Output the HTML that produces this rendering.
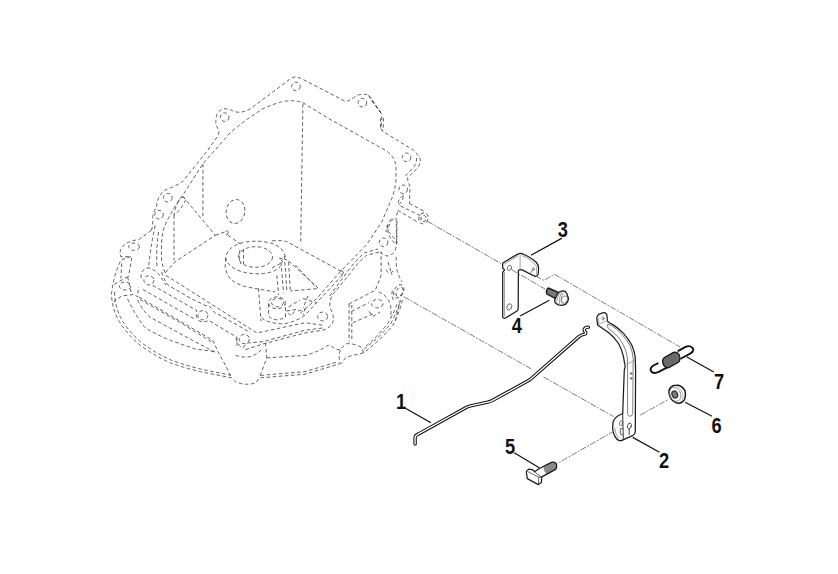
<!DOCTYPE html>
<html><head><meta charset="utf-8"><title>Parts diagram</title>
<style>
html,body{margin:0;padding:0;background:#fff}
svg{display:block}
.h path,.h ellipse{fill:none;stroke:#3a3a3a;stroke-width:.8;stroke-dasharray:3.6 2.5}
.cl path{fill:none;stroke:#6e6e6e;stroke-width:.9;stroke-dasharray:6.2 1.4 1.8 1.4}
.o{fill:#fff;stroke:#1c1c1c;stroke-width:1.1;stroke-linejoin:round;stroke-linecap:round}
.n{fill:none;stroke:#1c1c1c;stroke-width:1.1;stroke-linejoin:round;stroke-linecap:round}
.g{fill:none;stroke:#9a9a9a;stroke-width:.9;stroke-linecap:round}
.ld{fill:none;stroke:#111;stroke-width:1.2}
text{font-family:"Liberation Sans",sans-serif;font-weight:bold;font-size:22.4px;fill:#111;text-anchor:middle}
</style></head><body>
<svg width="838" height="574" viewBox="0 0 838 574">
<rect width="838" height="574" fill="#fff"/>
<g class="h">
<path d="M151.4,230.3 Q153,226 152.7,216.5 Q154,210 156.5,207.7 Q157,200 159,197.7 Q162,191 167.8,188.9 Q176,186 182.8,181.4 L207.9,150 L217.6,136.5 Q219.5,132 218.9,130.3 Q215,124 215.9,121.5 Q216,116 217.1,114 Q220,109.5 223.9,108.9 Q228,108.5 231.4,110.2 Q236,112.5 239,112.2 Q245,112 250.2,108.9 L290.4,78.8 Q294,76.5 296.7,77.1 L300.4,78.1 L343.1,100.2 Q345,101.8 346.8,101.4 Q351,99.5 355.6,96.4 Q359,94 363.4,94.2 Q367,94 369.3,95.9 L374.3,103.4 L381.8,114.3 L381.8,118.5 L381,128.5 L383.5,131.8 L413.6,150.2 Q416,152 417,154.4 Q420.5,158 420.3,160.3 Q420,165 417,168.6 L407.7,177.6 Q407.5,181 408.6,183.4 Q410.5,187 409.9,190.1 L409.4,203.5"/>
<path d="M151.4,230.3 L139,239.5 Q128,241 123,246 Q118.5,251 121,257 L131,256.5 L121,260 Q113.5,275 111.5,294 Q112,310 120,322.7 Q128,335 140.2,345.3 Q155,356 170.3,362.9 Q185,368 200.4,371.7 L231.7,377.9 L235.5,381.7 Q245,386 255.6,383 L259.3,377.9 L305,374.2 L340.3,363.6 Q338.5,357 339.5,352.5 Q341.5,346.5 347,343.6 Q355,343.5 361.9,347.7 L363.6,352.7 Q380.4,340.3 393,325.2 Q400.5,310.2 403,297.6"/>
<path d="M114.5,292 Q115,308 122.5,321 Q130,333 142,343 Q156,353.5 171.5,360.3 Q186,365.5 201,369.2 L230.5,375.2"/>
<path d="M260.6,375.4 L305,371.6 L338.5,361.6"/>
<path d="M364,349 Q379,338 390.5,324 Q398,310 400.3,300.3"/>
<path d="M366,346 Q378,336 388,323 Q395.5,310 397.5,302"/>
<path d="M165.2,272.9 Q161,262 161.5,255.4 Q161,243 162.7,232.8 Q165,223 170.3,215.2 Q175,205 182.8,195.2 L202.9,163.8 L230.2,132.8 Q246,119 262.8,108.9 Q272,104.5 280.4,102.2 Q287,100.5 292.9,100.7 Q298,101 302.9,102.7 L330,119.3 L385.2,150.2 Q389,152.5 391.9,156.1 Q395,160 396,165.3 L396,180.1 Q395,190 391.8,198.5 L381.8,221.9 L366.8,244.5 L340.1,271.8 L316.7,298.6 L300,313.6"/>
<path d="M302.9,103.9 L300.7,243.4"/>
<path d="M202.9,163.8 L202.9,216.5"/>
<path d="M174,215.2 L174,260.4"/>
<path d="M182.8,196.4 L215.4,235.3 L175.3,261.6 L165.2,272.9"/>
<path d="M215.4,235.3 L225,231.8 M228,235.3 L240.5,244.1"/>
<path d="M177.8,202.7 Q182,194 186,199 Q182,209 174,215.2 Q175,208 177.8,202.7"/>
<path d="M271.9,240.9 Q282,240 286.9,241.7 L343.8,272.7"/>
<path d="M155.2,225.3 Q150,250 148.5,268 M158.5,232 Q156,250 157,268"/>
<path d="M363.6,352.7 Q355,355 346.9,356.9 Q343,360 341.8,363.6"/>
<path d="M285.3,257 Q284,248 272,243.4 Q258,239.5 243,242.5 Q228,246.5 225.7,257 Q226,266 241,271.5 Q258,276 272,271.8 Q280,268.5 282.5,263"/>
<path d="M225.7,258 L225.1,268.5 Q228,277 231.8,280.2 Q238,285 246.8,286.9 L260.2,289.4 L275.2,291.9"/>
<path d="M243.5,249 L243.5,264 M240,250 Q238,258 241,264"/>
<path d="M284.4,255.9 L286.9,291.9 M276.9,275.2 L278.6,295.2 M288.6,262 L290.3,290.2 M281,262 L283.5,293"/>
<path d="M288.6,261 L318.7,288.5 L290.3,291 M295.3,265.1 L316,287"/>
<path d="M272,268 L283,262 L279,258 L287,260"/>
<path d="M258.5,288.5 L261,321 M268.6,304 L268.6,316 Q275,323 285.5,317 L285.5,304"/>
<path d="M261.8,317.7 Q265.6,322.7 283.2,324 Q295,322 305,315.2 L343.8,273.5"/>
<path d="M288.6,306.9 L300,300 M303,298.5 L316.5,303 M308,296 L303,308"/>
<path d="M286.5,311 L296,309.5 L291,316 Z M298,311 L305,309 L303,315"/>
<path d="M165.9,275.4 L257,333 L305,322.7 L322.7,325.2"/>
<path d="M161.7,272 Q164,280 168.4,285.4 L190.1,298 L205.2,305.5 Q210,305.3 212,309 Q214,313 216.9,313.6 L233.6,323 L250,332.5"/>
<path d="M152.7,285.4 L196.8,310.5 Q195,315 198,320 Q203,323.5 208.5,320.3 L237,337.3 L237,347.3"/>
<path d="M138.9,297 L213,340.5 L217.9,351.6 L225.5,365.4 L231.7,377.9"/>
<path d="M140.1,299.6 L183.6,324.6 L214,343.5"/>
<path d="M143,289.5 L194.3,318.9"/>
<path d="M137.6,300 Q143,311 150,317.2 L190,339 L215.2,352.3"/>
<path d="M127.6,298.9 Q135,315 145.2,327.8 Q157,335 170.3,340.3 L195.4,349.1 L215.4,351.6"/>
<path d="M113.4,301.9 L121.7,296 L134.3,294.4 L137.6,296.9 L138.5,286.9 M114.2,284.3 L127.6,276.8 M131.8,257.6 L128.4,276.8 M121.7,263.4 L120.9,278.5 M127.6,276.8 L131,292"/>
<path d="M141,278 Q141,268 149,268 Q156,270 160,276 L166,285"/>
<path d="M243,347.8 Q247,342 250.5,342.8 L263.1,341.6 L305,330.3 L322.7,328"/>
<path d="M245.5,349.6 L263,344 L305,332.9 L318,331 L322.7,330.3 Q332,327 332.8,322 Q335,317 330,308 Q329,300 333.4,293.6 L350.2,273.5 Q358,262 366.9,255.1 L380.3,251.8"/>
<path d="M329.6,296 L347.5,271.5 Q356,260 364.5,252.8 L378,249"/>
<path d="M265.6,342.8 L266.8,357.9 L259.3,377.9"/>
<path d="M235.5,355.4 Q243,358 250.5,356.6 Q258,354 263.1,347.8"/>
<path d="M266.8,357.9 L305.2,355.4 Q318,352 327.8,345.3 Q331,345 335.3,349.1 L340,350"/>
<path d="M236,338 Q238,346 243,347.8"/>
<path d="M349.1,303.9 L349.1,341.6 M351.8,305 L351.8,340"/>
<path d="M349.1,303.9 L375.3,290.2 L381.1,275.2 L381.1,251.8"/>
<path d="M351.6,311.4 L369.1,302.6 M352.8,322.7 L372.9,314"/>
<path d="M378.6,291.9 Q386,295 389.5,302 Q392,309 390.5,318 M369.1,311.4 L372.9,316.5 L380,312"/>
<path d="M380.3,251.8 Q384,256.5 388.6,255.9 Q394,254 395.3,250.1 Q397,245 396.2,241.7 Q393,236 388.6,231.7 L387,225"/>
<path d="M397,221 L396.7,243.4 M396.2,256.8 Q396,264 397,270.2 Q399,277 402,281.9"/>
<path d="M386,270 Q390,276 393,271 M388,262 L392,275"/>
<path d="M395.3,321 L400.3,300.3"/>
<path d="M393.5,300 Q391,296 392.5,290"/>
<path d="M409.4,203.5 L425.3,211.9 M397.7,210.2 L418.6,222.7 M400.5,206 L420,215.5"/>
<path d="M397.7,211.9 L396,216.9 L396.9,243.6"/>
<path d="M403.5,195.2 Q397,200 398.5,205.2 Q403,201 403.5,195.2"/>
<path d="M393.5,218.6 Q388,225 387.7,231.9 Q390,239 395.2,243.6 M391.5,218.6 Q386,226 386,232"/>
<path d="M416.5,158 Q417,163 413,168 L405.5,176"/>
<path d="M368.5,95.2 Q371.5,101.5 376,106.3 L381.3,113.6 M372,100 L380.5,112"/>
<path d="M380.7,118 L380.4,129 L382.6,131 M383.4,118 L383.2,129.5"/>
<ellipse cx="295.9" cy="86.4" rx="4.3" ry="4.3"/>
<ellipse cx="224.7" cy="117.2" rx="4.3" ry="4.3"/>
<ellipse cx="362.4" cy="102.7" rx="4.3" ry="4.3"/>
<ellipse cx="406.6" cy="157.4" rx="4.3" ry="4.3"/>
<ellipse cx="403.2" cy="189.3" rx="4.3" ry="4.3"/>
<ellipse cx="383.6" cy="242.3" rx="4.3" ry="4.3"/>
<ellipse cx="167.8" cy="197.7" rx="4.3" ry="4.3"/>
<ellipse cx="159" cy="214.7" rx="4.3" ry="4.3"/>
<ellipse cx="134.1" cy="246.7" rx="5.3" ry="3.7"/>
<ellipse cx="125.1" cy="286" rx="5.8" ry="4"/>
<ellipse cx="148.9" cy="280.3" rx="5" ry="4.6"/>
<ellipse cx="202.9" cy="315.2" rx="5" ry="4.6"/>
<ellipse cx="244.3" cy="339" rx="5" ry="4.6"/>
<ellipse cx="322.7" cy="316.5" rx="5" ry="4.4"/>
<ellipse cx="377.3" cy="303.7" rx="5.8" ry="4.2"/>
<ellipse cx="235.5" cy="211.5" rx="9.3" ry="12" transform="rotate(8 235.5 211.5)"/>
<ellipse cx="226.7" cy="232.8" rx="1.4" ry="2"/>
<ellipse cx="341.6" cy="272.6" rx="1.5" ry="2"/>
<ellipse cx="255.5" cy="257" rx="17" ry="10.3"/>
<ellipse cx="276.9" cy="302.8" rx="8.4" ry="5.9"/>
<ellipse cx="277.5" cy="302.5" rx="6" ry="4.2"/>
<ellipse cx="398.8" cy="291.3" rx="4.6" ry="7" transform="rotate(25 398.8 291.3)"/>
<ellipse cx="399.5" cy="291.8" rx="3" ry="5" transform="rotate(25 399.5 291.8)"/>
<ellipse cx="423.5" cy="218.3" rx="4.6" ry="5.6" transform="rotate(20 423.5 218.3)"/>
<ellipse cx="423.5" cy="218.6" rx="2.5" ry="3.2" transform="rotate(20 423.5 218.6)"/>
</g>
<!-- bracket 3 -->
<g>
<path class="o" d="M503.1,262.7 L517.8,254.1 Q520.3,252.9 522.6,253.8 L528.5,256.7 Q533.5,259.5 536.4,262.5 Q538.6,265 538.6,268 L538.3,273.4 Q538,275.3 536.2,276.6 L533.3,275.7 L522.8,270.1 Q520.3,269 518.4,270.6 L518.2,309 L517.4,310.8 L505,318.2 Q502.8,318.6 502.7,316.5 L502.7,272.3 L504.6,269.9 L502.7,268 L502.6,264.2 Z" style="stroke-width:1.25"/>
<path class="g" d="M520.1,254.6 L520.1,269 M504.5,272.5 L504.5,316 M504.4,263.9 L518,256 M522,255.4 Q532,259.5 536.7,267 L536.6,274"/>
<ellipse class="n" cx="509.4" cy="268" rx="2" ry="2.7" transform="rotate(25 509.4 268)" style="stroke:#555;stroke-width:.8"/>
<ellipse class="n" cx="509.3" cy="306.9" rx="2.3" ry="3.3" transform="rotate(25 509.3 306.9)" style="stroke:#555;stroke-width:.8"/>
<ellipse class="n" cx="533.3" cy="268.9" rx="1.1" ry="1.5" transform="rotate(20 533.3 268.9)" style="stroke:#666;stroke-width:.7"/>
</g>
<!-- bolt 4 -->
<g>
<path d="M548.3,288 L558.8,292.7 L555.7,298.6 L546.8,294 Q545.6,290 548.3,288 Z" fill="#787878" stroke="#161616" stroke-width="1.4" stroke-linejoin="round"/>
<path class="o" d="M559.1,292.1 L561.8,291 L564.9,291.2 L566.7,293.3 L568.5,298.5 L567.6,301.8 L565.5,304.3 L562.1,305.3 L558.2,304.9 L555.1,302.7 L554.6,300.6 L556,297 L557.6,293.9 Z" style="stroke-width:1.3"/>
<path class="g" d="M559.8,293.5 Q557,297 556.6,301.5 M561.8,291.6 Q558.8,297 559.3,303.6 M563.6,292.8 L561.2,297 L562,302.8" style="stroke:#777;stroke-width:.7"/>
<ellipse class="n" cx="564.4" cy="299.6" rx="2.9" ry="3.9" transform="rotate(25 564.4 299.6)" style="stroke:#666;stroke-width:.7"/>
</g>
<!-- rod 1 -->
<g transform="translate(-0.3 1.2)">
<path d="M415.4,442.8 L415.4,436.6 Q415.3,434.2 418.9,432.7 L466.5,406.3 Q468.5,405.2 471,404.7 L488,401 Q490.3,400.5 492.5,399.4 L530.2,378.6 L578.7,335.9 Q581.5,333.6 584,333.2 Q586.8,332.6 585.8,331 Q584,329.3 584.8,327.6 Q585.6,326 588.7,325.9" fill="none" stroke="#111" stroke-width="3.4" stroke-linecap="round" stroke-linejoin="round"/>
<path d="M415.4,442.8 L415.4,436.6 Q415.3,434.2 418.9,432.7 L466.5,406.3 Q468.5,405.2 471,404.7 L488,401 Q490.3,400.5 492.5,399.4 L530.2,378.6 L578.7,335.9 Q581.5,333.6 584,333.2 Q586.8,332.6 585.8,331 Q584,329.3 584.8,327.6 Q585.6,326 588.7,325.9" fill="none" stroke="#fff" stroke-width="1.3" stroke-linecap="round" stroke-linejoin="round"/>
</g>
<!-- arm 2 -->
<g>
<path class="o" d="M596.8,318 Q597,315.5 599,314.2 L603.5,312.6 Q605.8,312.3 606.8,314.5 L607.6,321.5 Q610,323.2 613.5,325.1 Q619,328.5 623.5,333.4 Q628.5,339 631.9,345.2 Q634.3,351 635.2,356.9 L635.6,370.2 L635.3,431.2 Q635.2,434.2 632.6,435.6 L623.5,439.6 Q621,441 619.3,440.6 Q616.5,439.5 615.2,436.9 Q613,433 612.6,428.5 L613.1,421.8 Q614.5,418 617.7,416 L622.7,413.5 L624.3,370 L625.2,366.9 L623.5,356.9 Q622,349.5 618.5,343.5 Q614.5,337.5 608.5,332.6 L597.6,325.1 Z" style="stroke-width:1.25"/>
<path class="n" d="M608,324.6 Q609.5,324.2 611.5,325.6 Q617,329 621.8,334.3 Q627,340 630.2,346 Q632.6,352 633.2,358.5 L632.7,413.5 Q632.3,416.3 630,416.3 Q627.8,416.2 627.6,413.5 L627.5,358.5 Q626.6,352 624.2,346.8 Q621.5,341 617.5,336.3 Q613,331.5 608.3,328.3 Q606.6,326.3 608,324.6 Z" style="stroke:#555;stroke-width:.75"/>
<path class="g" d="M598.6,318.5 L598.9,324.3 M598.6,324.2 L606.8,320.8 M624.8,364.4 Q630,363.5 634.6,360 M614.6,428 Q615,435 619,438.6"/><path class="n" d="M622.7,413.5 L623.3,438.5" style="stroke-width:.9"/>
<circle class="n" cx="631" cy="373.5" r=".9" style="stroke:#444;stroke-width:.7"/>
<circle class="n" cx="631" cy="378.4" r=".9" style="stroke:#444;stroke-width:.7"/>
<ellipse class="n" cx="603" cy="318.5" rx="1.1" ry="1.5" style="stroke:#555;stroke-width:.7"/>
<ellipse class="n" cx="629.4" cy="426" rx="1.9" ry="3" transform="rotate(15 629.4 426)" style="stroke:#333;stroke-width:.8"/>
<path class="n" d="M629.2,429 L629.2,434.6" style="stroke:#333;stroke-width:.9"/>
<ellipse class="n" cx="621" cy="423.3" rx="1.5" ry="2.6" transform="rotate(15 621 423.3)" style="stroke:#555;stroke-width:.7"/>
<path class="n" d="M622.6,428.6 L620.3,428.8 L620.3,434.2 L622.3,434.8" style="stroke:#333;stroke-width:.8"/>
</g>
<!-- spring 7 -->
<g>
<path class="n" d="M657.7,363.3 L653.5,365.5 Q650,367.6 650.7,370.2 Q651.8,373.4 655.5,372.9 L658.2,372.2 L667.8,367.1" style="stroke-width:1.9;stroke:#111"/>
<path class="n" d="M678.3,350.8 L686,346.7 Q688.5,345.6 690.5,346.5 Q693.6,348 693.2,350.2 Q692.8,352 690.5,353.4 L681.2,358.5" style="stroke-width:1.9;stroke:#111"/>
<path d="M662.6,361 Q662.6,358.6 664.5,357.5 L673.5,352.4 Q676.5,351.6 678.4,353.7 Q680.4,356.5 679.8,359.6 Q679.4,361.6 678,362.5 L668.7,367.6 Q665.8,368.2 664,365.6 Q662.8,363.6 662.6,361 Z" fill="#6e6e6e" stroke="#151515" stroke-width="1.4" stroke-linejoin="round"/>
<path d="M668.3,356.2 Q669.5,361 669,366.4 M671.3,354.6 Q672.6,359.5 672.2,364.8 M674.3,353.2 Q675.7,358 675.3,363.2 M665.6,358 Q666.7,362 666.4,366.8" stroke="#5a5a5a" stroke-width=".6" fill="none"/>
</g>
<!-- washer 6 -->
<g>
<path class="o" d="M669.3,389.5 Q670.8,386 674.5,385.4 L678.4,385.2 Q683,386.5 685,391 Q686.3,395.5 684.6,399.3 Q682.5,403 678.6,403.3 Q674,402.6 671,398.6 Q668.3,394 669.3,389.5 Z" style="stroke-width:1.45;stroke:#111"/>
<ellipse class="n" cx="675.3" cy="394.3" rx="5.3" ry="7.3" transform="rotate(-22 675.3 394.3)" style="stroke:#8a8a8a;stroke-width:.8"/>
<path class="n" d="M676.5,386.3 Q682.5,389 683,396 Q682.8,400 680.5,402" style="stroke:#999;stroke-width:.7"/>
<ellipse cx="674.8" cy="394.5" rx="2.7" ry="3.6" transform="rotate(-20 674.8 394.5)" fill="#7c7c7c" stroke="#333" stroke-width="1.3"/>
</g>
<!-- bolt 5 -->
<g>
<path class="o" d="M526.3,472 Q526.5,470.3 528.7,469.2 L532.1,469.6 L541.7,477.1 L541.4,482.4 L538.3,484.6 L527.3,478.6 Z" style="stroke-width:1.25"/>
<path d="M534.6,471.8 L539.3,468.5 L551.5,462.4 Q555.5,461.6 556.6,464.8 Q557,467.8 555.6,469.4 L541.9,476.9 Z" fill="#fff"/>
<path d="M543.3,466.6 L551.5,462.4 Q555.5,461.6 556.6,464.8 Q557,467.8 555.6,469.4 L546.5,474.3 Q543.6,471 543.3,466.6 Z" fill="#8a8a8a"/>
<path class="n" d="M534.6,471.8 L539.3,468.5 L551.5,462.4 Q555.5,461.6 556.6,464.8 Q557,467.8 555.6,469.4 L541.9,476.9" style="stroke-width:1.25"/>
<path class="n" d="M527.8,471.6 L538.8,477.3 L541.5,477 M538.8,477.3 L538.4,484.3" style="stroke-width:.8;stroke:#444"/>
</g>
<!-- leaders -->
<path class="ld" d="M531,255.2 L562,238.1"/>
<path class="ld" d="M549.4,300.2 L520.1,316"/>
<path class="ld" d="M404.2,407.4 L430.9,422.8"/>
<path class="ld" d="M514.2,452.8 L539.3,467.8"/>
<path class="ld" d="M632.7,437.4 L659.5,452.2"/>
<path class="ld" d="M686.9,357 L713.8,371.9"/>
<path class="ld" d="M685.1,402.2 L712,416.3"/>
<text transform="translate(562.8 236.6) scale(.815 1)">3</text>
<text transform="translate(516.8 333) scale(.815 1)">4</text>
<text transform="translate(401 408.6) scale(.815 1)">1</text>
<text transform="translate(510 453.8) scale(.815 1)">5</text>
<text transform="translate(664.1 468.2) scale(.815 1)">2</text>
<text transform="translate(719 388.8) scale(.815 1)">7</text>
<text transform="translate(716.6 432.8) scale(.815 1)">6</text>
<g class="cl">
<path d="M427.6,221.4 L502.2,264.2"/>
<path d="M511.8,269.8 L546.5,289.9"/>
<path d="M533.3,269 L530.4,273.3 L543.9,280.4 L554.4,274.2 L680,347"/>
<path d="M403.8,296.7 L532.1,369.4"/>
<path d="M543.5,377 L613.5,416.5"/>
<path d="M640.2,415.2 L668.7,399.3"/>
<path d="M614.3,431 L557.5,463.3"/>
</g>
</svg>
</body></html>
